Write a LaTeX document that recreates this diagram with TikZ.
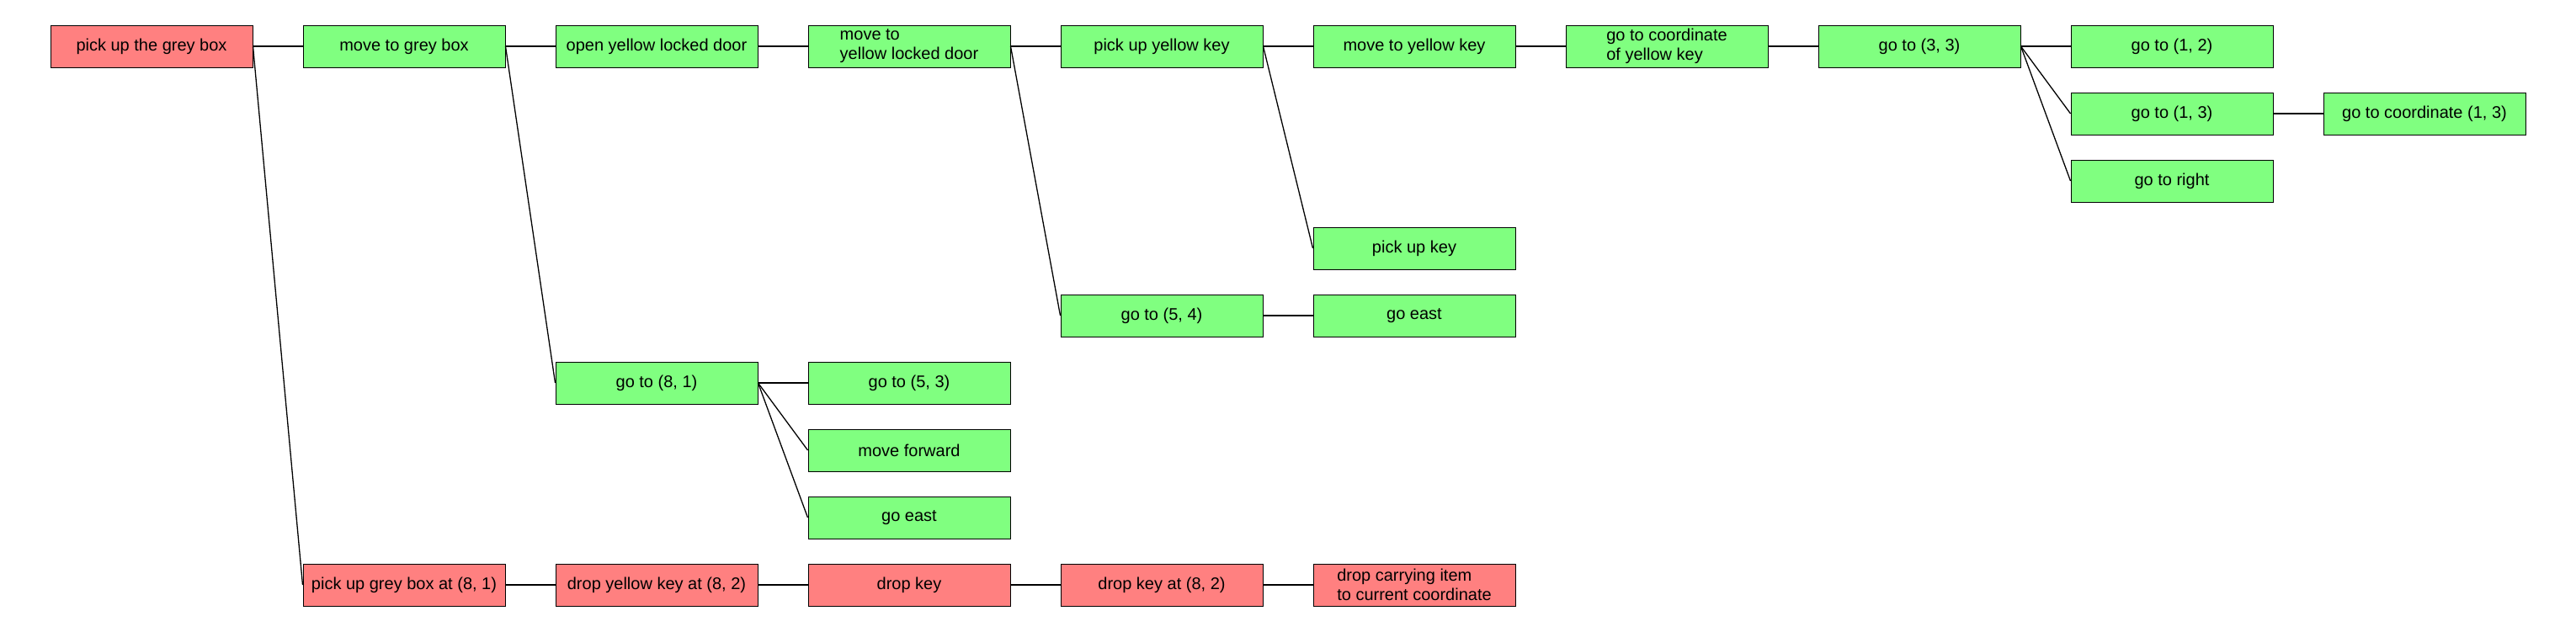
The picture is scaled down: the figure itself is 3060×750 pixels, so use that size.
\documentclass[tikz,border=0pt]{standalone}
\usepackage{fontspec}
\setmainfont{Liberation Sans}
\definecolor{boxgreen}{HTML}{80FF80}
\definecolor{boxred}{HTML}{FF8080}
\begin{document}
\begin{tikzpicture}[x=1pt,y=-1pt,
  base/.style={draw=black, line width=1pt, minimum width=240pt, minimum height=50pt, inner sep=0pt,
    font=\fontsize{20}{23}\selectfont, align=left},
  gbox/.style={base, fill=boxgreen},
  rbox/.style={base, fill=boxred},
  link/.style={draw=black, line width=1.3pt}]
\useasboundingbox (0,0) rectangle (3060,750);
\fill[white] (0,0) rectangle (3060,750);
\def\cx#1{180+300*#1}
\def\cy#1{55+80*#1}
% row 0
\node[rbox] (n00) at ({\cx0},{\cy0}) {pick up the grey box};
\node[gbox] (n01) at ({\cx1},{\cy0}) {move to grey box};
\node[gbox] (n02) at ({\cx2},{\cy0}) {open yellow locked door};
\node[gbox] (n03) at ({\cx3},{\cy0}) {move to\\yellow locked door};
\node[gbox] (n04) at ({\cx4},{\cy0}) {pick up yellow key};
\node[gbox] (n05) at ({\cx5},{\cy0}) {move to yellow key};
\node[gbox] (n06) at ({\cx6},{\cy0}) {go to coordinate\\of yellow key};
\node[gbox] (n07) at ({\cx7},{\cy0}) {go to (3, 3)};
\node[gbox] (n08) at ({\cx8},{\cy0}) {go to (1, 2)};
% row 1-2
\node[gbox] (n18) at ({\cx8},{\cy1}) {go to (1, 3)};
\node[gbox] (n19) at ({\cx9},{\cy1}) {go to coordinate (1, 3)};
\node[gbox] (n28) at ({\cx8},{\cy2}) {go to right};
% row 3-4
\node[gbox] (n35) at ({\cx5},{\cy3}) {pick up key};
\node[gbox] (n44) at ({\cx4},{\cy4}) {go to (5, 4)};
\node[gbox] (n45) at ({\cx5},{\cy4}) {go east};
% row 5-7
\node[gbox] (n52) at ({\cx2},{\cy5}) {go to (8, 1)};
\node[gbox] (n53) at ({\cx3},{\cy5}) {go to (5, 3)};
\node[gbox] (n63) at ({\cx3},{\cy6}) {move forward};
\node[gbox] (n73) at ({\cx3},{\cy7}) {go east};
% row 8
\node[rbox] (n81) at ({\cx1},{\cy8}) {pick up grey box at (8, 1)};
\node[rbox] (n82) at ({\cx2},{\cy8}) {drop yellow key at (8, 2)};
\node[rbox] (n83) at ({\cx3},{\cy8}) {drop key};
\node[rbox] (n84) at ({\cx4},{\cy8}) {drop key at (8, 2)};
\node[rbox] (n85) at ({\cx5},{\cy8}) {drop carrying item\\to current coordinate};
% connectors
\draw[link] (n00.east) -- (n01.west);
\draw[link] (n00.east) -- (n81.west);
\draw[link] (n01.east) -- (n02.west);
\draw[link] (n01.east) -- (n52.west);
\draw[link] (n02.east) -- (n03.west);
\draw[link] (n03.east) -- (n04.west);
\draw[link] (n03.east) -- (n44.west);
\draw[link] (n04.east) -- (n05.west);
\draw[link] (n04.east) -- (n35.west);
\draw[link] (n05.east) -- (n06.west);
\draw[link] (n06.east) -- (n07.west);
\draw[link] (n07.east) -- (n08.west);
\draw[link] (n07.east) -- (n18.west);
\draw[link] (n07.east) -- (n28.west);
\draw[link] (n18.east) -- (n19.west);
\draw[link] (n44.east) -- (n45.west);
\draw[link] (n52.east) -- (n53.west);
\draw[link] (n52.east) -- (n63.west);
\draw[link] (n52.east) -- (n73.west);
\draw[link] (n81.east) -- (n82.west);
\draw[link] (n82.east) -- (n83.west);
\draw[link] (n83.east) -- (n84.west);
\draw[link] (n84.east) -- (n85.west);
\end{tikzpicture}
\end{document}
